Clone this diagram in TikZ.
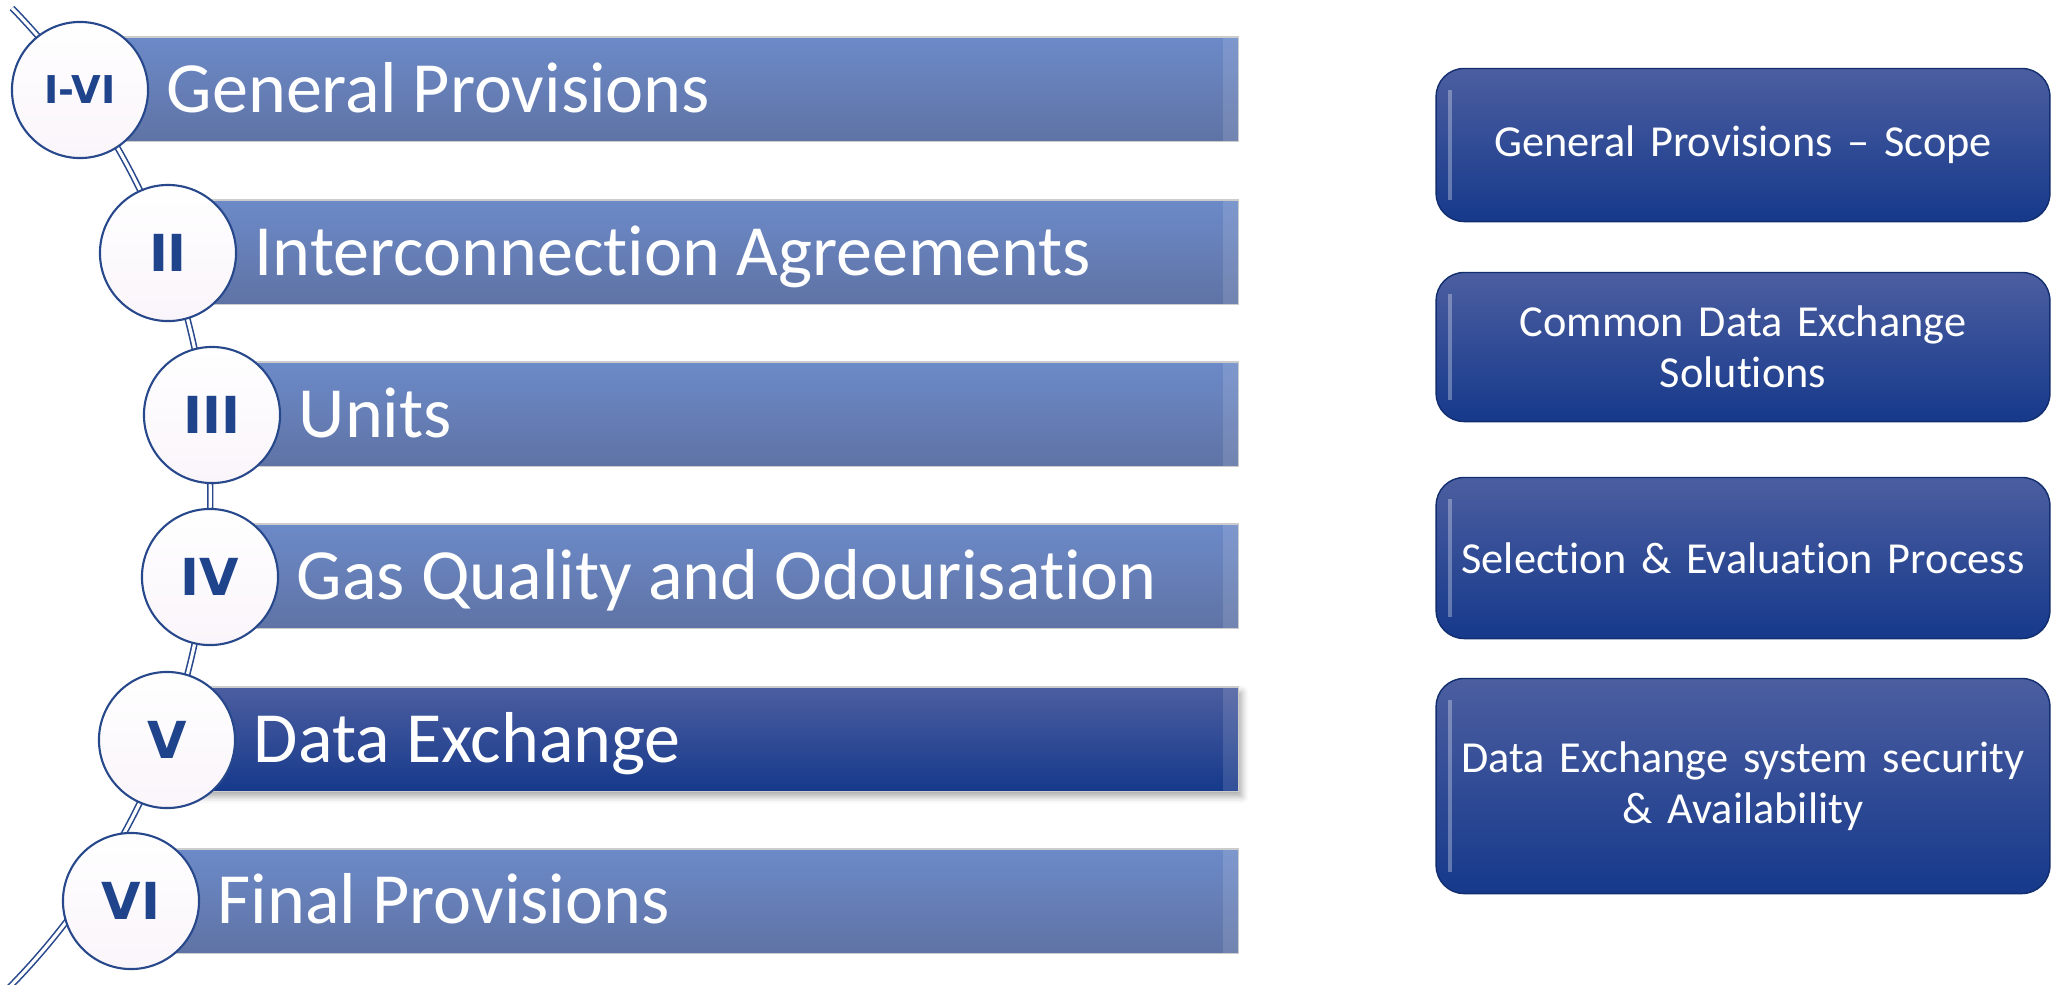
\documentclass[tikz,border=0pt]{standalone}
\usepackage{fontspec}
\setmainfont{Carlito}[Ligatures={TeX,NoCommon}]
\newfontfamily\romanfont{DejaVu Sans}
\usepackage{xcolor}
\usepackage{tikz}
\usetikzlibrary{positioning, shadows.blur}

\definecolor{barlight}{RGB}{108,138,200}
\definecolor{barmid}{RGB}{100,126,184}
\definecolor{bardark}{RGB}{95,115,165}
\definecolor{deeplight}{RGB}{76,94,160}
\definecolor{deepmid}{RGB}{31,69,153}
\definecolor{deepdark}{RGB}{22,57,139}
\definecolor{ringblue}{RGB}{40,72,140}
\definecolor{numblue}{RGB}{31,68,140}

\begin{document}
\begin{tikzpicture}[x=0.01cm, y=-0.01cm,
    bar/.style = {anchor=west, minimum height=1.04cm, inner sep=0pt,
      draw=black!20, line width=0.3pt,
      top color=barlight, middle color=barmid, bottom color=bardark,
      path picture={\fill[white, opacity=0.12]
        ([xshift=-0.15cm]path picture bounding box.north east)
        rectangle (path picture bounding box.south east);}},
    hotbar/.style = {bar, top color=deeplight, middle color=deepmid,
      bottom color=deepdark,
      blur shadow={shadow xshift=1pt, shadow yshift=-1.5pt, shadow opacity=35}},
    ring/.style = {circle, minimum size=1.36cm, inner sep=0pt,
      draw=ringblue, line width=0.6pt,
      top color=white, bottom color=violet!4, text=numblue,
      font=\romanfont\bfseries\fontsize{14.5}{16}\selectfont},
    bartext/.style = {right=0.17cm of #1, inner sep=0pt, text=white,
      text height=0.45cm, text depth=0pt,
      font=\fontsize{20.5}{24}\selectfont},
    card/.style = {rounded corners=0.28cm, minimum width=6.13cm,
      text width=5.9cm, align=center,
      draw=deepdark!80!black, line width=0.4pt,
      top color=deeplight, middle color=deepmid, bottom color=deepdark,
      text=white, font=\fontsize{12.6}{14.4}\selectfont,
      path picture={\draw[white, opacity=0.3, line width=1.2pt]
        ([xshift=0.14cm, yshift=-0.22cm]path picture bounding box.north west)
        -- ([xshift=0.14cm, yshift=0.22cm]path picture bounding box.south west);}},
    spine/.style = {draw=ringblue, double=white, line width=0.45pt,
      double distance=0.9pt}]

  \useasboundingbox (0,0) rectangle (2052,984);

  % spine, behind everything
  \coordinate (top) at (12,8);
  \draw[spine] (top) arc[start angle=44.2, end angle=-44.6, radius=7cm]
    coordinate (bottom);

  % chapters
  \node[bar, minimum width=11.59cm] (b1) at (78,89) {};
  \node[bar, minimum width=10.69cm] (b2) at (168,252) {};
  \node[bar, minimum width=10.25cm] (b3) at (212,414) {};
  \node[bar, minimum width=10.27cm] (b4) at (210,576) {};
  \node[hotbar, minimum width=10.70cm] (b5) at (167,739) {};
  \node[bar, minimum width=11.06cm] (b6) at (131,901) {};

  \node[ring, font=\romanfont\bfseries\fontsize{10.9}{12}\selectfont] (c1) at (80,90) {I-VI};
  \node[ring] (c2) at (168,253) {II};
  \node[ring] (c3) at (212,415) {III};
  \node[ring] (c4) at (210,577) {IV};
  \node[ring] (c5) at (167,740) {V};
  \node[ring] (c6) at (131,901) {VI};

  \node[bartext=c1] (t1) {General Provisions};
  \node[bartext=c2] (t2) {Interconnection Agreements};
  \node[bartext=c3] (t3) {Units};
  \node[bartext=c4] (t4) {Gas Quality and Odourisation};
  \node[bartext=c5] (t5) {Data Exchange};
  \node[bartext=c6] (t6) {Final Provisions};

  % topics of chapter V
  \node[card, minimum height=1.53cm] (p1) at (1743,145) {General Provisions -- Scope};
  \node[card, minimum height=1.49cm] (p2) at (1743,347) {Common Data Exchange\\Solutions};
  \node[card, minimum height=1.61cm] (p3) at (1743,558) {Selection \& Evaluation Process};
  \node[card, minimum height=2.15cm] (p4) at (1743,786) {Data Exchange system security\\\& Availability};
\end{tikzpicture}
\end{document}
